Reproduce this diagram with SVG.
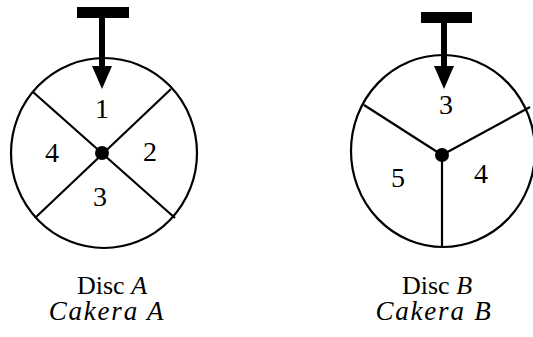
<svg xmlns="http://www.w3.org/2000/svg" width="533" height="337" viewBox="0 0 533 337">
<style>
.rim{fill:none;stroke:#000;stroke-width:2.2}
.sp{stroke:#000;stroke-width:2.2;fill:none}
.num{font-family:"Liberation Serif",serif;font-size:28px;text-anchor:middle;fill:#000}
.cap{font-family:"Liberation Serif",serif;font-size:26px;text-anchor:middle;fill:#000}
.it{font-style:italic}
.ck{font-size:27px;letter-spacing:1.8px}
</style>
<rect width="533" height="337" fill="#fff"/>
<g id="discA">
<ellipse class="rim" cx="104" cy="153" rx="93" ry="95"/>
<line class="sp" x1="33" y1="92" x2="175" y2="218"/>
<line class="sp" x1="171" y1="89" x2="35" y2="218"/>
<circle cx="102" cy="153" r="7" fill="#000"/>
<text class="num" x="102" y="118">1</text>
<text class="num" x="150" y="161">2</text>
<text class="num" x="100" y="206">3</text>
<text class="num" x="52" y="162">4</text>
</g>
<g id="pointerA">
<rect x="77" y="7" width="52" height="11" fill="#000"/>
<rect x="99" y="18" width="6" height="50" fill="#000"/>
<polygon points="92,66 112,66 102,89" fill="#000"/>
</g>
<g id="discB">
<ellipse class="rim" cx="443" cy="151" rx="92" ry="96"/>
<line class="sp" x1="364" y1="105" x2="442" y2="155"/>
<line class="sp" x1="530" y1="107" x2="442" y2="155"/>
<line class="sp" x1="442" y1="155" x2="442" y2="247"/>
<circle cx="442" cy="155" r="7" fill="#000"/>
<text class="num" x="446" y="114">3</text>
<text class="num" x="481" y="183">4</text>
<text class="num" x="398" y="187">5</text>
</g>
<g id="pointerB">
<rect x="421" y="12" width="51" height="11" fill="#000"/>
<rect x="441" y="23" width="6" height="45" fill="#000"/>
<polygon points="434,66 454,66 444,89" fill="#000"/>
</g>
<g id="labelA">
<text class="cap" x="112" y="294">Disc <tspan class="it">A</tspan></text>
<text class="cap it ck" x="107" y="320">Cakera  A</text>
</g>
<g id="labelB">
<text class="cap" x="437" y="294">Disc <tspan class="it">B</tspan></text>
<text class="cap it ck" x="434" y="320">Cakera  B</text>
</g>
<g id="connectors"/>
</svg>
